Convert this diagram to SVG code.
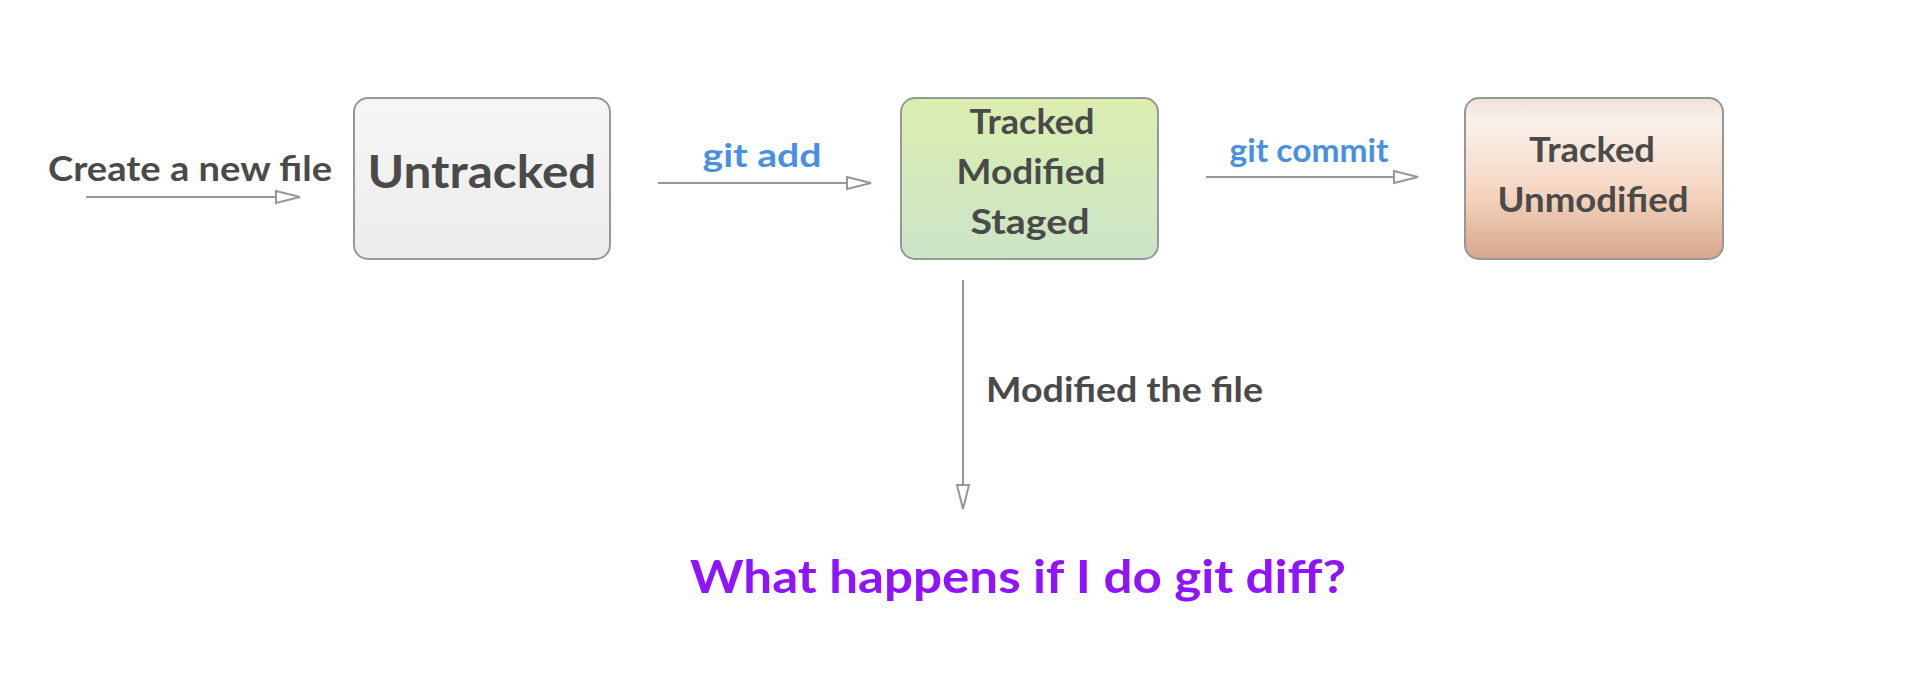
<svg xmlns="http://www.w3.org/2000/svg" width="1926" height="700" viewBox="0 0 1926 700">
<style>
.t{font-family:Lato,"Open Sans","Liberation Sans",sans-serif;font-weight:bold;fill:#4A4A4A}
.b{fill:#4A90E2}
.p{fill:#9013FE}
.box{stroke:#979797;stroke-width:2}
.c{stroke:#979797;stroke-width:2;fill:none}
</style>
<defs>
<linearGradient id="gU" x1="0" y1="0" x2="0" y2="1"><stop offset="0" stop-color="#F6F6F6"/><stop offset="1" stop-color="#ECECEC"/></linearGradient>
<linearGradient id="gG" x1="0" y1="0" x2="0" y2="1"><stop offset="0" stop-color="#DBEEAF"/><stop offset="1" stop-color="#CCE5C8"/></linearGradient>
<linearGradient id="gO" x1="0" y1="0" x2="0" y2="1"><stop offset="0" stop-color="#F0E2DA"/><stop offset="0.15" stop-color="#FAF1EC"/><stop offset="0.6" stop-color="#F5D4BE"/><stop offset="1" stop-color="#D6A78C"/></linearGradient>
<marker id="ah" markerUnits="userSpaceOnUse" markerWidth="28" markerHeight="16" refX="25" refY="7" orient="auto" viewBox="0 0 28 16">
<path d="M1,1 L25,7 L1,13 Z" fill="#fff" stroke="#979797" stroke-width="2"/>
</marker>
</defs>
<rect width="1926" height="700" fill="#fff"/>
<g id="connectors">
<line class="c" x1="86" y1="197" x2="300" y2="197" marker-end="url(#ah)"/>
<line class="c" x1="658" y1="183" x2="871" y2="183" marker-end="url(#ah)"/>
<line class="c" x1="1206" y1="177" x2="1418" y2="177" marker-end="url(#ah)"/>
<line class="c" x1="963" y1="280" x2="963" y2="509" marker-end="url(#ah)"/>
<text class="t" x="48" y="181" font-size="34" textLength="284" lengthAdjust="spacingAndGlyphs">Create a new file</text>
<text class="t b" x="762" y="167" font-size="32" text-anchor="middle" textLength="119" lengthAdjust="spacingAndGlyphs">git add</text>
<text class="t b" x="1309" y="162" font-size="32" text-anchor="middle" textLength="159" lengthAdjust="spacingAndGlyphs">git commit</text>
<text class="t" x="986" y="402" font-size="34" textLength="277" lengthAdjust="spacingAndGlyphs">Modified the file</text>
</g>
<g id="untracked">
<rect class="box" x="354" y="98" width="256" height="161" rx="14" fill="url(#gU)"/>
<text class="t" x="482" y="188" font-size="46" text-anchor="middle" textLength="229" lengthAdjust="spacingAndGlyphs">Untracked</text>
</g>
<g id="staged">
<rect class="box" x="901" y="98" width="257" height="161" rx="14" fill="url(#gG)"/>
<text class="t" x="1032" y="134" font-size="34" text-anchor="middle" textLength="125" lengthAdjust="spacingAndGlyphs">Tracked</text>
<text class="t" x="1031" y="184" font-size="34" text-anchor="middle" textLength="149" lengthAdjust="spacingAndGlyphs">Modified</text>
<text class="t" x="1030" y="234" font-size="34" text-anchor="middle" textLength="119" lengthAdjust="spacingAndGlyphs">Staged</text>
</g>
<g id="unmodified">
<rect class="box" x="1465" y="98" width="258" height="161" rx="14" fill="url(#gO)"/>
<text class="t" x="1592" y="162" font-size="34" text-anchor="middle" textLength="126" lengthAdjust="spacingAndGlyphs">Tracked</text>
<text class="t" x="1593" y="212" font-size="34" text-anchor="middle" textLength="191" lengthAdjust="spacingAndGlyphs">Unmodified</text>
</g>
<g id="question">
<text class="t p" x="690" y="593" font-size="46" textLength="656" lengthAdjust="spacingAndGlyphs">What happens if I do git diff?</text>
</g>
</svg>
